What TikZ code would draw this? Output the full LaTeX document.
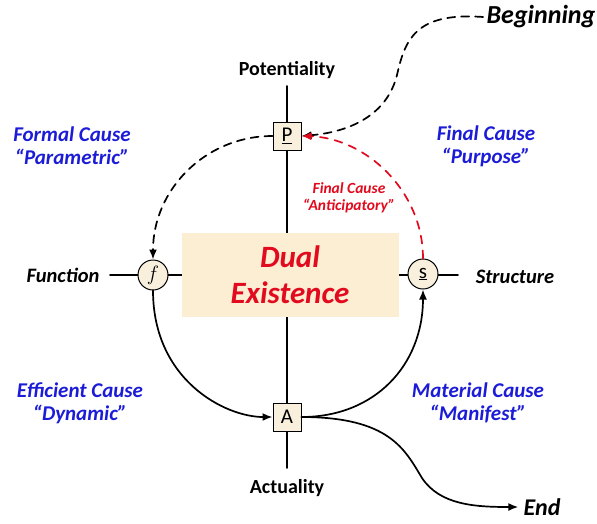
\documentclass[tikz,border=0pt]{standalone}
\usepackage{fontspec}
\setmainfont{Carlito}
\usetikzlibrary{arrows.meta}
\definecolor{causeblue}{RGB}{28,28,215}
\definecolor{causered}{RGB}{225,10,30}
\definecolor{boxfill}{RGB}{252,238,210}
\definecolor{knotfill}{RGB}{248,240,220}
\tikzset{
  axis/.style={line width=1.8pt},
  flow/.style={line width=1.7pt,-{Latex[length=10pt,width=8pt]}},
  knot/.style={draw,line width=1pt,fill=knotfill,circle,minimum size=30pt,inner sep=0pt,font=\fontsize{21}{21}\selectfont},
  gate/.style={draw,line width=1pt,fill=knotfill,minimum size=28pt,inner sep=0pt,font=\fontsize{21}{21}\selectfont},
  pole/.style={font=\fontsize{20}{20}\selectfont\bfseries},
  side/.style={font=\fontsize{20.5}{20}\selectfont\bfseries\itshape},
  cause/.style={text=causeblue,align=center,font=\fontsize{21}{23}\selectfont\bfseries\itshape},
}
\begin{document}
\begin{tikzpicture}[x=1pt,y=-1pt,line cap=round,>=latex]
  \useasboundingbox (0,0) rectangle (597,523);
  % axes
  \coordinate (top) at (287,86);
  \coordinate (bot) at (287,468);
  \coordinate (lft) at (110,275);
  \coordinate (rgt) at (458,275);
  \draw[axis] (top) -- (bot);
  \draw[axis] (lft) -- (rgt);
  \node[fill=boxfill,minimum width=217pt,minimum height=84pt,align=center,
        text=causered,font=\fontsize{31}{36}\selectfont\bfseries\itshape] (dual) at (290,275) {Dual\\Existence};
  % poles
  \node[gate] (P) at (287,136) {\underline{P}};
  \node[gate] (A) at (287,417) {A};
  \node[knot] (f) at (153,275) {$f$};
  \node[knot] (s) at (423,274) {\underline{s}};
  \node[pole] (pot) at (287,70) {Potentiality};
  \node[pole] (act) at (287,488) {Actuality};
  \node[side] (fun) at (63,275) {Function};
  \node[side] (str) at (515,277) {Structure};
  \node[font=\fontsize{26}{26}\selectfont\bfseries\itshape] (beg) at (541,17) {Beginning};
  \node[font=\fontsize{24}{24}\selectfont\bfseries\itshape,inner sep=1pt] (end) at (542,507) {End};
  % causes
  \node[cause] (formal) at (72,146) {Formal Cause\\``Parametric''};
  \node[cause] (final) at (486,146) {Final Cause\\``Purpose''};
  \node[cause] (effic) at (80,403) {Efficient Cause\\``Dynamic''};
  \node[cause] (mater) at (478,403) {Material Cause\\``Manifest''};
  \node[text=causered,align=center,font=\fontsize{15.5}{17}\selectfont\bfseries\itshape] (antic) at (349,198) {Final Cause\\``Anticipatory''};
  % connectors
  \draw[flow,dashed,dash pattern=on 8pt off 6pt] (beg.west) .. controls (415,12) and (405,40) .. (397,75)
    .. controls (387,115) and (350,132) .. (P.east);
  \draw[flow,dashed,dash pattern=on 8pt off 6pt] (P.west) .. controls (205,136) and (153,190) .. (f.north);
  \draw[flow,causered,dashed,dash pattern=on 8pt off 7pt] (s.north) .. controls (423,190) and (365,138) .. (P.east);
  \draw[flow] (f.south) .. controls (153,380) and (225,417) .. (A.west);
  \draw[flow] (A.east) .. controls (375,417) and (423,365) .. (s.south);
  \draw[flow] (A.east) .. controls (390,417) and (405,450) .. (422,478)
    .. controls (440,505) and (475,507) .. ([xshift=-4pt]end.west);
\end{tikzpicture}
\end{document}
